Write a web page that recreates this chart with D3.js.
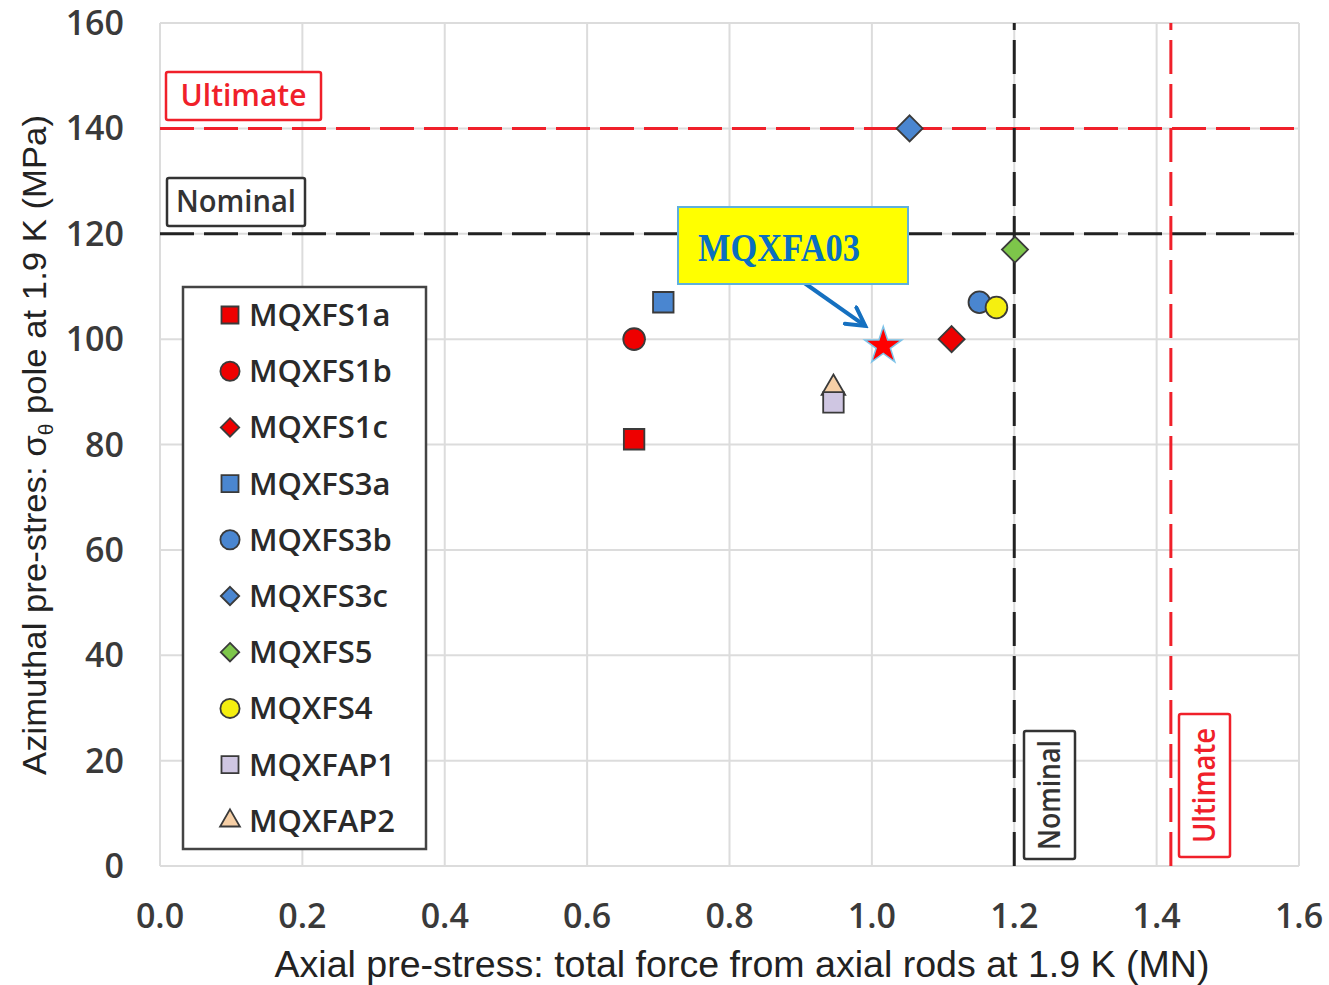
<!DOCTYPE html>
<html>
<head>
<meta charset="utf-8">
<script src="https://cdn.jsdelivr.net/npm/d3@7"></script>
<style>
  body { margin: 0; background: #fff; }
  text { font-family: "Open Sans", "Liberation Sans", sans-serif; }
</style>
</head>
<body>
<div id="chart"></div>
<script>
// Series
let names   = ['MQXFS1a', 'MQXFS1b', 'MQXFS1c', 'MQXFS3a', 'MQXFS3b', 'MQXFS3c', 'MQXFS5', 'MQXFS4', 'MQXFAP1', 'MQXFAP2'];
let xVals   = [0.666, 0.666, 1.112, 0.707, 1.151, 1.053, 1.201, 1.175, 0.946, 0.946];
let yVals   = [81, 100, 100, 107, 107, 140, 117, 106, 88, 90.7];
let shapes  = ['square', 'circle', 'diamond', 'square', 'circle', 'diamond', 'diamond', 'circle', 'square', 'triangle'];
let fills   = ['#ee0000', '#ee0000', '#ee0000', '#4a86d0', '#4a86d0', '#4a86d0', '#7dc64a', '#f5ef10', '#cfc6e2', '#f6cfa6'];

let starPoint = { name: 'MQXFA03', x: 1.016, y: 98.7 };

let xTicks = [0, 0.2, 0.4, 0.6, 0.8, 1.0, 1.2, 1.4, 1.6];
let yTicks = [0, 20, 40, 60, 80, 100, 120, 140, 160];

let nominalX = 1.2, ultimateX = 1.42;
let nominalY = 120, ultimateY = 140;

let chart_width  = 1329;
let chart_height = 985;

let svg = d3.select('#chart')
    .append('svg')
    .attr('width', chart_width)
    .attr('height', chart_height);

let xScale = d3.scaleLinear().domain([0, 1.6]).range([160, 1299]);
let yScale = d3.scaleLinear().domain([0, 160]).range([866, 23]);

// Gridlines
svg.append('g').selectAll('line')
    .data(xTicks)
    .enter()
    .append('line')
    .attr('x1', d => xScale(d)).attr('x2', d => xScale(d))
    .attr('y1', yScale(0)).attr('y2', yScale(160))
    .attr('stroke', '#dcdcdc').attr('stroke-width', 2);

svg.append('g').selectAll('line')
    .data(yTicks)
    .enter()
    .append('line')
    .attr('x1', xScale(0)).attr('x2', xScale(1.6))
    .attr('y1', d => yScale(d)).attr('y2', d => yScale(d))
    .attr('stroke', '#dcdcdc').attr('stroke-width', 2);

// Tick labels
svg.append('g').selectAll('text')
    .data(xTicks)
    .enter()
    .append('text')
    .attr('x', d => xScale(d))
    .attr('y', 928)
    .attr('text-anchor', 'middle')
    .attr('font-size', 34)
    .attr('font-weight', 600)
    .attr('fill', '#3a3a3a')
    .text(d => d.toFixed(1));

svg.append('g').selectAll('text')
    .data(yTicks)
    .enter()
    .append('text')
    .attr('x', 124)
    .attr('y', d => yScale(d) + 12)
    .attr('text-anchor', 'end')
    .attr('font-size', 34)
    .attr('font-weight', 600)
    .attr('fill', '#3a3a3a')
    .text(d => d);

// Axis titles
svg.append('text')
    .attr('x', 742).attr('y', 977)
    .attr('text-anchor', 'middle')
    .attr('font-size', 36)
    .attr('fill', '#222')
    .attr('textLength', 935)
    .attr('lengthAdjust', 'spacingAndGlyphs')
    .style('font-family', '"Liberation Sans", Arial, sans-serif')
    .text('Axial pre-stress: total force from axial rods at 1.9 K (MN)');

let yTitle = svg.append('text')
    .attr('transform', 'translate(46,445) rotate(-90)')
    .attr('text-anchor', 'middle')
    .attr('font-size', 33)
    .attr('fill', '#222')
    .attr('textLength', 660)
    .attr('lengthAdjust', 'spacingAndGlyphs')
    .style('font-family', '"Liberation Sans Narrow", "Liberation Sans", sans-serif');
yTitle.append('tspan').text('Azimuthal pre-stres: \u03C3');
yTitle.append('tspan').attr('font-size', 20).attr('dy', 7).text('\u03B8');
yTitle.append('tspan').attr('dy', -7).text(' pole at 1.9 K (MPa)');

// Reference lines
let dash = '34,10';
svg.append('line')
    .attr('x1', xScale(0)).attr('x2', xScale(1.6))
    .attr('y1', yScale(ultimateY)).attr('y2', yScale(ultimateY))
    .attr('stroke', '#f0202a').attr('stroke-width', 3).attr('stroke-dasharray', dash);
svg.append('line')
    .attr('x1', xScale(0)).attr('x2', xScale(1.6))
    .attr('y1', yScale(nominalY)).attr('y2', yScale(nominalY))
    .attr('stroke', '#222').attr('stroke-width', 3).attr('stroke-dasharray', dash);
svg.append('line')
    .attr('x1', xScale(nominalX)).attr('x2', xScale(nominalX))
    .attr('y1', yScale(0)).attr('y2', yScale(160))
    .attr('stroke', '#222').attr('stroke-width', 3).attr('stroke-dasharray', dash);
svg.append('line')
    .attr('x1', xScale(ultimateX)).attr('x2', xScale(ultimateX))
    .attr('y1', yScale(0)).attr('y2', yScale(160))
    .attr('stroke', '#f0202a').attr('stroke-width', 3).attr('stroke-dasharray', dash);

// Labelled boxes for the limits
function tagBox(x, y, w, h, label, color, rotate, len) {
    let g = svg.append('g').attr('transform', 'translate(' + x + ',' + y + ')');
    g.append('rect')
        .attr('width', w).attr('height', h)
        .attr('rx', 2)
        .attr('fill', '#fff')
        .attr('stroke', color).attr('stroke-width', 2.5);
    let t = g.append('text')
        .attr('text-anchor', 'middle')
        .attr('font-size', 30)
        .attr('font-weight', 600)
        .attr('fill', color)
        .attr('textLength', len)
        .attr('lengthAdjust', 'spacingAndGlyphs')
        .text(label);
    if (rotate) {
        t.attr('transform', 'translate(' + (w / 2 + 10) + ',' + (h / 2) + ') rotate(-90)');
    } else {
        t.attr('x', w / 2).attr('y', h / 2 + 10);
    }
}
tagBox(166, 72, 155, 48, 'Ultimate', '#f0202a', false, 126);
tagBox(167, 178, 138, 48, 'Nominal', '#333', false, 120);
tagBox(1024, 731, 51, 128, 'Nominal', '#333', true, 110);
tagBox(1179, 714, 51, 143, 'Ultimate', '#f0202a', true, 115);

// Marker symbols
let diamond = {
    draw: function(context, size) {
        let r = Math.sqrt(size / 2);
        context.moveTo(0, -r);
        context.lineTo(r, 0);
        context.lineTo(0, r);
        context.lineTo(-r, 0);
        context.closePath();
    }
};
let symbolTypes = {
    square:   d3.symbolSquare,
    circle:   d3.symbolCircle,
    diamond:  diamond,
    triangle: d3.symbolTriangle
};
let symbolSizes = { square: 420, circle: 370, diamond: 340, triangle: 240 };
let symbol = d3.symbol()
    .type(s => symbolTypes[s])
    .size(s => symbolSizes[s]);

// Points (MQXFAP2 triangle drawn first so the square sits over it)
let order = [9, 0, 1, 2, 3, 4, 5, 6, 7, 8];
svg.append('g').selectAll('path')
    .data(order)
    .enter()
    .append('path')
    .attr('transform', i => 'translate(' + xScale(xVals[i]) + ',' + yScale(yVals[i]) + ')')
    .attr('d', i => symbol(shapes[i]))
    .attr('fill', i => fills[i])
    .attr('stroke', '#3a3a3a')
    .attr('stroke-width', 1.8);

// Legend
let legend = svg.append('g');
legend.append('rect')
    .attr('x', 183).attr('y', 287)
    .attr('width', 243).attr('height', 562)
    .attr('fill', '#fff')
    .attr('stroke', '#444').attr('stroke-width', 2.5);

let legendSizes = { square: 290, circle: 290, diamond: 170, triangle: 170 };
let legendItem = legend.selectAll('g.item')
    .data(names)
    .enter()
    .append('g')
    .attr('class', 'item')
    .attr('transform', (d, i) => 'translate(230,' + (315 + i * 56.2) + ')');

legendItem.append('path')
    .attr('d', (d, i) => d3.symbol().type(symbolTypes[shapes[i]]).size(legendSizes[shapes[i]])())
    .attr('fill', (d, i) => fills[i])
    .attr('stroke', '#3a3a3a')
    .attr('stroke-width', 1.8);

legendItem.append('text')
    .attr('x', 19).attr('y', 11)
    .attr('font-size', 31)
    .attr('font-weight', 600)
    .attr('fill', '#2a2a2a')
    .text(d => d);

// MQXFA03 star and callout
let star = d3.symbol().type(d3.symbolStar).size(430);
svg.append('path')
    .attr('transform', 'translate(' + xScale(starPoint.x) + ',' + yScale(starPoint.y) + ')')
    .attr('d', star())
    .attr('fill', '#ff0000')
    .attr('stroke', '#7ec3e8')
    .attr('stroke-width', 1.5);

svg.append('defs').append('marker')
    .attr('id', 'arrow')
    .attr('viewBox', '0 0 12 12')
    .attr('refX', 10).attr('refY', 6)
    .attr('markerWidth', 6).attr('markerHeight', 6)
    .attr('orient', 'auto')
    .append('path')
    .attr('d', 'M1,1 L10,6 L1,11')
    .attr('fill', 'none')
    .attr('stroke', '#1570c0')
    .attr('stroke-width', 2)
    .attr('stroke-linecap', 'round');

svg.append('line')
    .attr('x1', 803).attr('y1', 282)
    .attr('x2', xScale(starPoint.x) - 18).attr('y2', yScale(starPoint.y) - 20)
    .attr('stroke', '#1570c0')
    .attr('stroke-width', 4)
    .attr('marker-end', 'url(#arrow)');

svg.append('rect')
    .attr('x', 678).attr('y', 207)
    .attr('width', 230).attr('height', 77)
    .attr('fill', '#ffff00')
    .attr('stroke', '#5fb0dc')
    .attr('stroke-width', 2);

svg.append('text')
    .attr('x', 698).attr('y', 261)
    .attr('font-size', 40)
    .attr('font-weight', 'bold')
    .attr('fill', '#0a6fc0')
    .attr('textLength', 162)
    .attr('lengthAdjust', 'spacingAndGlyphs')
    .style('font-family', '"Liberation Serif", "DejaVu Serif", serif')
    .text(starPoint.name);
</script>
</body>
</html>
